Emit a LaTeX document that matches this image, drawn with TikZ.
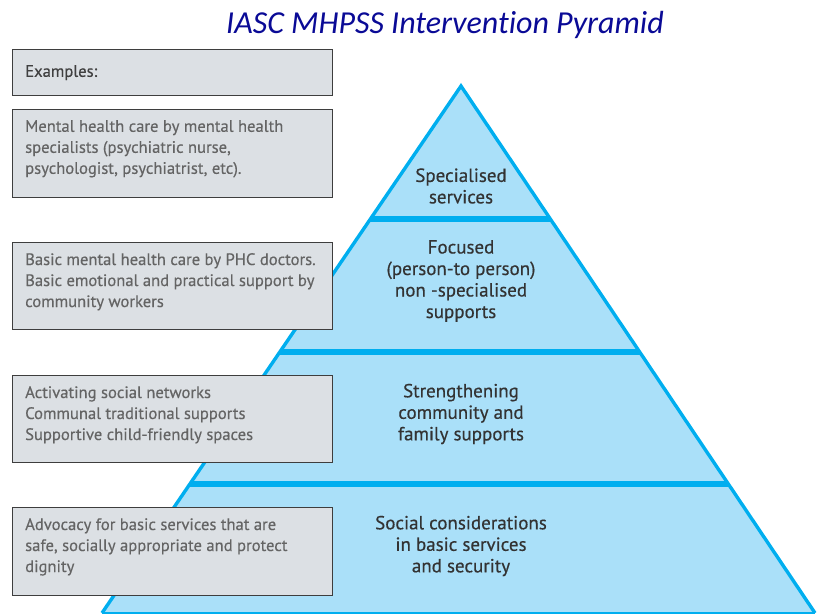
\documentclass[tikz,border=0pt]{standalone}
\usepackage{fontspec}
\setmainfont{PT Sans}
\newfontfamily\titlefont{Carlito}
\usetikzlibrary{positioning, calc}
\definecolor{tierfill}{RGB}{170,224,249}
\definecolor{tierline}{RGB}{0,174,239}
\definecolor{boxfill}{RGB}{220,224,228}
\definecolor{boxline}{RGB}{62,62,62}
\definecolor{boxtext}{RGB}{100,100,100}
\definecolor{titleblue}{RGB}{10,10,150}
\tikzset{x=1pt, y=-1pt, inner sep=0pt,
	example/.style={draw=boxline, line width=1.4pt, fill=boxfill, anchor=north west, minimum width=320pt, minimum height=88pt},
	example text/.style={text=boxtext, align=left, font=\fontsize{16.6}{21}\selectfont\addfontfeature{FakeBold=0.4}},
	tier/.style={text=black!80, align=center, font=\fontsize{19}{21.5}\selectfont\addfontfeature{FakeBold=0.4}},
	outline/.style={draw=tierline, line width=3.4pt, line join=miter},
	separator/.style={draw=tierline, line width=5.5pt}}

\begin{document}
\begin{tikzpicture}
	\useasboundingbox (0,0) rectangle (818,615);
	\node[text=titleblue, font=\titlefont\itshape\fontsize{32}{34}\selectfont] (Title) at (445,25) {IASC MHPSS Intervent\kern0pt ion Pyramid};
	\coordinate (Apex) at (461,86);
	\coordinate (Base L) at (102,613);
	\coordinate (Base R) at (815,613);
	\fill[tierfill] (Apex) -- (Base R) -- (Base L) -- cycle;
	\foreach \t in {0.2524, 0.5047, 0.7552}
		\draw[separator] ($(Apex)!\t!(Base L)$) -- ($(Apex)!\t!(Base R)$);
	\draw[outline] (Base L) -- (Apex) -- (Base R);
	\draw[tierline, line width=1.5pt] (Base L) -- (Base R);
	\node[tier] (Specialised) at (461,186) {Specialised\\services};
	\node[tier] (Focused) at (461,281) {Focused\\(person-to person)\\non -specialised\\supports};
	\node[tier] (Community) at (461,414) {Strengthening\\community and\\family supports};
	\node[tier] (Basic) at (461,546) {Social considerations\\in basic services\\and security};
	\node[example, minimum height=46pt] (Examples) at (12,49) {};
	\node[example] (Box Specialised) at (12,109) {};
	\node[example, minimum height=87pt] (Box Focused) at (12,242) {};
	\node[example, minimum height=87pt] (Box Community) at (12,375) {};
	\node[example] (Box Basic) at (12,507) {};
	\node[example text, text=black!75, below right=16pt and 13pt of Examples.north west] {Examples:};
	\node[example text, below right=11pt and 13pt of Box Specialised.north west] {Mental health care by mental health\\specialists (psychiatric nurse,\\psychologist, psychiatrist, etc).};
	\node[example text, below right=11pt and 13pt of Box Focused.north west] {Basic mental health care by PHC doctors.\\Basic emotional and practical support by\\community workers};
	\node[example text, below right=11pt and 13pt of Box Community.north west] {Activating social networks\\Communal traditional supports\\Supportive child-friendly spaces};
	\node[example text, below right=11pt and 13pt of Box Basic.north west] {Advocacy for basic services that are\\safe, socially appropriate and protect\\dignity};
\end{tikzpicture}
\end{document}
